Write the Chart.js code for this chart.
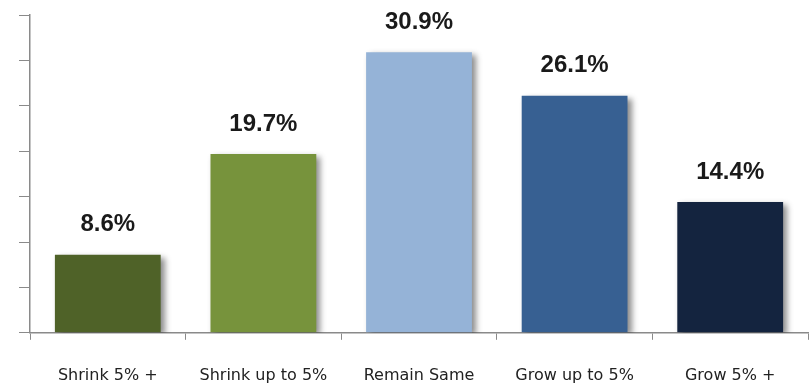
<!DOCTYPE html>
<html>
<head>
<meta charset="utf-8">
<script src="https://cdn.jsdelivr.net/npm/chart.js@4/dist/chart.umd.min.js"></script>
<style>
  html, body { margin: 0; padding: 0; background: #fff; }
  #wrap { width: 810px; height: 383px; }
</style>
</head>
<body>
<div id="wrap"><canvas id="growthChart" width="810" height="383"></canvas></div>
<script>
// Chart data
const categories = ['Shrink 5% +', 'Shrink up to 5%', 'Remain Same', 'Grow up to 5%', 'Grow 5% +'];
const shares = [8.6, 19.7, 30.9, 26.1, 14.4];
const barColors = ['#4F6228', '#77933C', '#95B3D7', '#376092', '#14243F'];
const yTicks = [0, 5, 10, 15, 20, 25, 30, 35];

const axisColor = '#8a8a8a';

// soft drop shadow behind the bars
const barShadow = {
    id: 'barShadow',
    beforeDatasetDraw(chart) {
        const ctx = chart.ctx;
        ctx.save();
        ctx.shadowColor = 'rgba(0, 0, 0, 0.45)';
        ctx.shadowBlur = 6;
        ctx.shadowOffsetX = 4;
        ctx.shadowOffsetY = 3;
    },
    afterDatasetDraw(chart) {
        chart.ctx.restore();
    }
};

// percentage labels above each bar
const valueLabels = {
    id: 'valueLabels',
    afterDatasetsDraw(chart) {
        const ctx = chart.ctx;
        const meta = chart.getDatasetMeta(0);
        ctx.save();
        ctx.font = 'bold 24px "Liberation Sans", Arial, sans-serif';
        ctx.fillStyle = '#1a1a1a';
        ctx.textAlign = 'center';
        ctx.textBaseline = 'middle';
        meta.data.forEach((bar, i) => {
            ctx.fillText(shares[i].toFixed(1) + '%', bar.x, bar.y - 30);
        });
        ctx.restore();
    }
};

const ctx = document.getElementById('growthChart').getContext('2d');
new Chart(ctx, {
    type: 'bar',
    data: {
        labels: categories,
        datasets: [{
            data: shares,
            backgroundColor: barColors,
            borderWidth: 0,
            categoryPercentage: 1,
            barPercentage: 0.68
        }]
    },
    options: {
        responsive: false,
        animation: false,
        layout: { padding: { left: 19, right: 2, top: 15, bottom: -28 } },
        plugins: {
            legend: { display: false },
            tooltip: { enabled: false }
        },
        scales: {
            x: {
                grid: {
                    offset: true,
                    drawOnChartArea: false,
                    drawTicks: true,
                    tickLength: 7,
                    color: axisColor
                },
                border: { color: axisColor, width: 1.5 },
                ticks: {
                    padding: 26,
                    color: '#222',
                    font: { family: '"DejaVu Sans", sans-serif', size: 16 }
                }
            },
            y: {
                min: 0,
                max: 35,
                afterBuildTicks: (scale) => {
                    scale.ticks = yTicks.map(v => ({ value: v }));
                },
                grid: {
                    drawOnChartArea: false,
                    drawTicks: true,
                    tickLength: 11,
                    color: axisColor
                },
                border: { color: axisColor, width: 1.5 },
                ticks: { display: false }
            }
        }
    },
    plugins: [barShadow, valueLabels]
});
</script>
</body>
</html>
